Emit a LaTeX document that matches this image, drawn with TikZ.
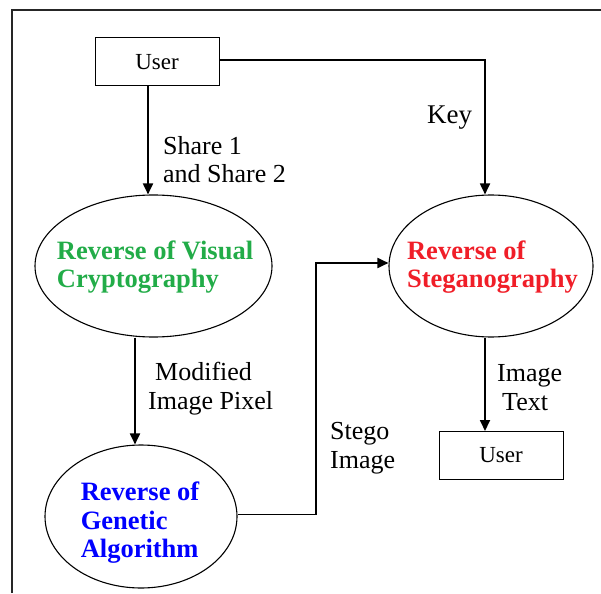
\documentclass[tikz,border=0pt]{standalone}
\usepackage{fontspec}
\setmainfont{Liberation Serif}
\usetikzlibrary{shapes.geometric,arrows.meta}
\definecolor{vgreen}{RGB}{34,172,72}
\definecolor{vred}{RGB}{240,30,40}
\definecolor{vblue}{RGB}{0,0,255}
\tikzset{
 userbox/.style={draw, line width=1pt, minimum width=124pt, minimum height=48pt, inner sep=0pt, font=\fontsize{23}{25}\selectfont},
 proc/.style={draw, ellipse, line width=1.1pt, inner sep=0pt},
 proctext/.style={inner sep=0pt, align=left, font=\fontsize{26.5}{28.5}\selectfont\bfseries},
 lbl/.style={font=\fontsize{26}{28.5}\selectfont, align=left, anchor=base west, inner sep=0pt},
 arr/.style={line width=1.8pt, -{Triangle[length=11pt,width=10pt]}},
 framel/.style={line width=1.3pt, draw=black!85}
}
\begin{document}
\begin{tikzpicture}[x=1pt,y=-1pt]
\useasboundingbox (0,0) rectangle (601,593);
\draw[framel] (12,593) -- (12,10) -- (601,10);
\node[userbox] (u1) at (157,62) {User};
\node[userbox] (u2) at (501,455.5) {User};
\node[proc, minimum width=237pt, minimum height=142pt] (viz) at (153.5,266) {};
\node[proc, minimum width=204pt, minimum height=142pt] (steg) at (491,266) {};
\node[proc, minimum width=192pt, minimum height=143pt] (gen) at (141,516.5) {};
\node[proctext, text=vgreen] (vizt) at (155,267) {Reverse of Visual\\Cryptography};
\node[proctext, text=vred] (stegt) at (492.5,267) {Reverse of\\Steganography};
\node[proctext, text=vblue] (gent) at (140,523) {Reverse of\\Genetic\\Algorithm};
\coordinate (ca) at (148,0);
\coordinate (cb) at (135,0);
\coordinate (ck) at (485,0);
\coordinate (cs) at (316,263);
\draw[arr] (u1.south -| ca) -- (ca |- viz.north);
\draw[arr] (cb |- viz.south) -- (cb |- gen.north);
\draw[arr] ([yshift=2pt]u1.east) -| (ck |- steg.north);
\draw[arr] (ck |- steg.south) -- (ck |- u2.north);
\draw[arr] ([yshift=2pt]gen.east) -| (cs) -- (cs -| steg.west);
\node[lbl] (lshare) at (163,183) {Share 1\\and Share 2};
\node[lbl, font=\fontsize{27}{28.5}\selectfont] (lkey) at (427,124) {Key};
\node[lbl] (lmod) at (148,409) {\hspace*{7pt}Modified\\Image Pixel};
\node[lbl] (limg) at (497,410) {Image\\\hspace*{5pt}Text};
\node[lbl] (lstego) at (330,468) {Stego\\Image};
\end{tikzpicture}
\end{document}
